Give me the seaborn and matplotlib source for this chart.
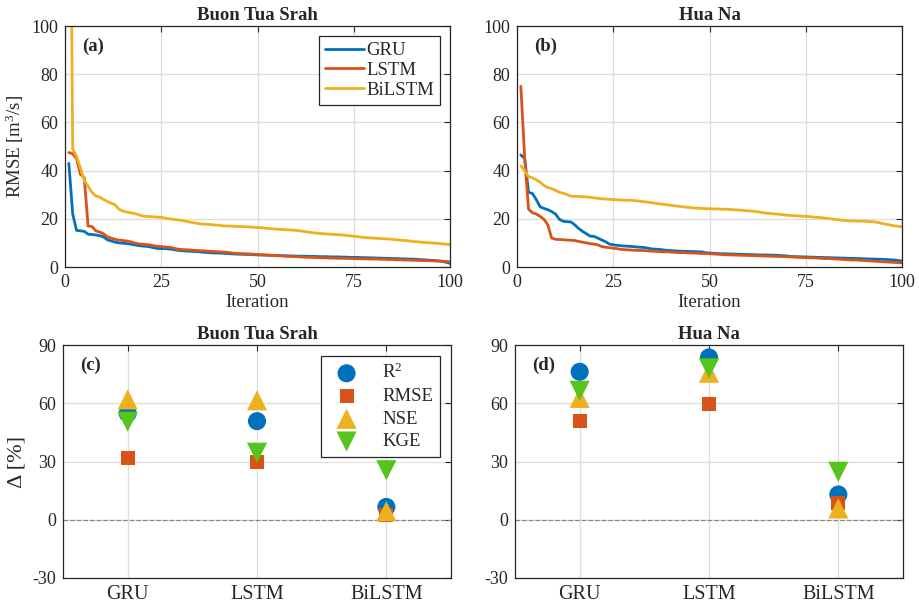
import numpy as np
import pandas as pd
import matplotlib
matplotlib.use("Agg")
import matplotlib.pyplot as plt
import seaborn as sns
from matplotlib.lines import Line2D

# ---------------- data ----------------
iterations = list(range(1, 101))
models = ["GRU", "LSTM", "BiLSTM"]
metrics = ["R$^2$", "RMSE", "NSE", "KGE"]

bts_gru = [43, 22, 15.2, 15, 14.8, 13.6, 13.5, 13.3, 13, 12.5,
           11.3, 10.8, 10.3, 10, 9.9, 9.7, 9.5, 9.2, 8.9, 8.7,
           8.6, 8.4, 8.0, 7.7, 7.6, 7.6, 7.5, 7.3, 7.0, 6.8,
           6.7, 6.6, 6.5, 6.4, 6.3, 6.1, 6.0, 5.9, 5.8, 5.8,
           5.7, 5.6, 5.5, 5.4, 5.3, 5.3, 5.2, 5.2, 5.1, 5.0,
           5.0, 4.9, 4.9, 4.8, 4.8, 4.7, 4.7, 4.6, 4.6, 4.5,
           4.5, 4.5, 4.4, 4.4, 4.4, 4.3, 4.3, 4.3, 4.2, 4.2,
           4.2, 4.1, 4.1, 4.0, 4.0, 4.0, 3.9, 3.9, 3.8, 3.8,
           3.7, 3.7, 3.6, 3.6, 3.5, 3.5, 3.4, 3.4, 3.3, 3.3,
           3.2, 3.1, 3.0, 2.9, 2.8, 2.7, 2.5, 2.3, 2.0, 1.5]
bts_lstm = [47.5, 47, 45, 38.5, 37, 17, 16.8, 15, 14.5, 13.8,
            12.5, 12, 11.5, 11.2, 11, 10.8, 10.5, 10, 9.6, 9.5,
            9.3, 9.2, 8.8, 8.6, 8.5, 8.3, 8.2, 7.9, 7.5, 7.3,
            7.2, 7.1, 7.0, 6.9, 6.8, 6.7, 6.6, 6.5, 6.4, 6.3,
            6.2, 6.1, 5.9, 5.7, 5.6, 5.5, 5.5, 5.4, 5.3, 5.2,
            5.1, 5.0, 4.9, 4.8, 4.7, 4.6, 4.5, 4.4, 4.4, 4.3,
            4.2, 4.1, 4.0, 4.0, 3.9, 3.9, 3.8, 3.8, 3.7, 3.7,
            3.6, 3.6, 3.6, 3.5, 3.5, 3.5, 3.4, 3.4, 3.3, 3.3,
            3.3, 3.2, 3.2, 3.1, 3.1, 3.0, 3.0, 2.9, 2.9, 2.8,
            2.8, 2.7, 2.7, 2.6, 2.6, 2.5, 2.5, 2.4, 2.3, 2.1]
bts_bilstm = [250, 49, 46, 41, 36, 33.5, 31, 29.5, 29, 28,
              27.2, 26.5, 25.8, 24, 23.2, 22.8, 22.5, 22.2, 21.8, 21.2,
              21, 20.9, 20.8, 20.7, 20.6, 20.3, 20, 19.8, 19.6, 19.4,
              19.1, 18.8, 18.5, 18.2, 17.9, 17.8, 17.7, 17.6, 17.4, 17.3,
              17.1, 17.0, 17.0, 16.9, 16.8, 16.8, 16.7, 16.6, 16.5, 16.4,
              16.3, 16.1, 16.0, 15.8, 15.7, 15.6, 15.5, 15.4, 15.3, 15.2,
              15.0, 14.8, 14.5, 14.3, 14.1, 14.0, 13.8, 13.7, 13.6, 13.5,
              13.4, 13.3, 13.1, 12.9, 12.8, 12.6, 12.4, 12.2, 12.1, 12.0,
              11.9, 11.8, 11.7, 11.6, 11.5, 11.3, 11.2, 11.0, 10.9, 10.7,
              10.5, 10.4, 10.2, 10.1, 10.0, 9.9, 9.8, 9.6, 9.5, 9.3]

hn_gru = [46.5, 45, 31, 30.5, 28, 25, 24.3, 23.8, 23, 22,
          19.8, 19, 18.8, 18.7, 17.5, 16, 14.8, 13.8, 12.8, 12.7,
          12, 11.2, 10.5, 9.5, 9.2, 9, 8.8, 8.7, 8.6, 8.5,
          8.3, 8.2, 8.1, 7.8, 7.5, 7.4, 7.3, 7.1, 6.9, 6.8,
          6.7, 6.6, 6.5, 6.5, 6.4, 6.4, 6.3, 6.3, 5.9, 5.8,
          5.7, 5.6, 5.5, 5.5, 5.4, 5.4, 5.3, 5.3, 5.2, 5.2,
          5.1, 5.1, 5.0, 5.0, 5.0, 4.9, 4.9, 4.8, 4.7, 4.6,
          4.4, 4.3, 4.3, 4.2, 4.2, 4.1, 4.1, 4.0, 4.0, 3.9,
          3.9, 3.8, 3.8, 3.7, 3.7, 3.6, 3.6, 3.5, 3.5, 3.4,
          3.4, 3.3, 3.3, 3.2, 3.2, 3.1, 3.0, 2.9, 2.7, 2.5]
hn_lstm = [75, 45, 24, 22.5, 22, 21, 19.8, 17.5, 12, 11.5,
           11.4, 11.3, 11.2, 11.1, 11, 10.6, 10.3, 10, 9.7, 9.5,
           9.2, 8.5, 8.2, 8, 7.8, 7.6, 7.3, 7.2, 7.1, 7.0,
           6.9, 6.9, 6.8, 6.7, 6.6, 6.5, 6.4, 6.3, 6.3, 6.2,
           6.1, 6.0, 6.0, 5.9, 5.8, 5.8, 5.7, 5.6, 5.6, 5.5,
           5.4, 5.3, 5.2, 5.1, 5.0, 5.0, 4.9, 4.9, 4.8, 4.8,
           4.7, 4.7, 4.6, 4.6, 4.5, 4.5, 4.4, 4.4, 4.3, 4.3,
           4.2, 4.1, 4.0, 4.0, 3.9, 3.8, 3.8, 3.7, 3.6, 3.5,
           3.5, 3.4, 3.3, 3.2, 3.1, 3.0, 2.9, 2.9, 2.8, 2.7,
           2.6, 2.5, 2.4, 2.3, 2.2, 2.1, 2.0, 1.9, 1.8, 1.7]
hn_bilstm = [42, 40, 37.5, 37, 36.2, 35.2, 33.8, 33, 32.5, 31.8,
             31, 30.6, 30, 29.4, 29.3, 29.3, 29.2, 29.1, 28.9, 28.7,
             28.5, 28.3, 28.2, 28.1, 28.0, 27.9, 27.8, 27.7, 27.7, 27.6,
             27.5, 27.3, 27.1, 26.9, 26.7, 26.4, 26.2, 26.0, 25.8, 25.6,
             25.4, 25.2, 25.0, 24.8, 24.7, 24.5, 24.4, 24.3, 24.2, 24.2,
             24.1, 24.1, 24.0, 24.0, 23.9, 23.8, 23.7, 23.6, 23.4, 23.3,
             23.2, 23.0, 22.8, 22.5, 22.3, 22.2, 22.0, 21.9, 21.7, 21.5,
             21.4, 21.3, 21.2, 21.1, 21.0, 20.9, 20.7, 20.6, 20.5, 20.3,
             20.1, 19.9, 19.7, 19.5, 19.3, 19.2, 19.1, 19.1, 19.0, 19.0,
             18.9, 18.8, 18.7, 18.4, 18.0, 17.7, 17.4, 17.1, 16.9, 16.7]

# improvement (%) per model: [GRU, LSTM, BiLSTM]
bts_r2 = [54.8, 50.8, 6.6]
bts_rmse = [32.0, 29.8, 2.3]
bts_nse = [62.0, 61.5, 4.4]
bts_kge = [50.5, 34.5, 25.5]
hn_r2 = [76.2, 83.6, 13.0]
hn_rmse = [51.0, 59.4, 8.7]
hn_nse = [62.7, 75.7, 5.8]
hn_kge = [66.4, 78.0, 24.7]

# ---------------- style ----------------
sns.set_style("white")
plt.rcParams["font.family"] = ["Liberation Serif", "DejaVu Serif"]
plt.rcParams["mathtext.fontset"] = "custom"
plt.rcParams["mathtext.rm"] = "Liberation Serif"
plt.rcParams["mathtext.it"] = "Liberation Serif:italic"
plt.rcParams["mathtext.bf"] = "Liberation Serif:bold"
plt.rcParams["axes.unicode_minus"] = False
plt.rcParams["axes.edgecolor"] = "#262626"
plt.rcParams["axes.linewidth"] = 0.9

line_colors = {"GRU": "#0072BD", "LSTM": "#D95319", "BiLSTM": "#EDB120"}
metric_colors = {"R$^2$": "#0072BD", "RMSE": "#D95319", "NSE": "#EDB120", "KGE": "#55C41C"}
metric_markers = {"R$^2$": "o", "RMSE": "s", "NSE": "^", "KGE": "v"}
metric_sizes = {"R$^2$": 170, "RMSE": 100, "NSE": 210, "KGE": 210}

W, H = 919, 608
fig = plt.figure(figsize=(W / 100, H / 100), dpi=100)

def px_axes(l, t, r, b):
    return fig.add_axes([l / W, 1 - b / H, (r - l) / W, (b - t) / H])

ax_a = px_axes(65, 26, 450, 267)
ax_b = px_axes(517, 26, 902, 267)
ax_c = px_axes(63, 345, 451, 578)
ax_d = px_axes(515, 345, 903, 578)

GRID = dict(color="#DDDDDD", linewidth=0.9)
TICK = 13

def style_axes(ax):
    ax.grid(True, **GRID)
    ax.set_axisbelow(True)
    ax.tick_params(direction="in", length=4, width=0.8, top=True, right=True,
                   labelsize=TICK, color="#262626", pad=5)
    for s in ax.spines.values():
        s.set_visible(True)
        s.set_color("#262626")

def line_panel(ax, gru, lstm, bilstm, title, tag, ylabel=None, legend=False):
    df = pd.DataFrame({
        "Iteration": iterations * 3,
        "RMSE": gru + lstm + bilstm,
        "Model": ["GRU"] * 100 + ["LSTM"] * 100 + ["BiLSTM"] * 100,
    })
    sns.lineplot(data=df, x="Iteration", y="RMSE", hue="Model", hue_order=models,
                 palette=line_colors, estimator=None, linewidth=2.0, ax=ax, legend=False)
    ax.set_xlim(0, 100)
    ax.set_ylim(0, 100)
    ax.set_xticks([0, 25, 50, 75, 100])
    ax.set_yticks([0, 20, 40, 60, 80, 100])
    style_axes(ax)
    ax.set_xlabel("Iteration", fontsize=13.5, labelpad=2)
    ax.set_ylabel(ylabel if ylabel else "", fontsize=13.5)
    ax.set_title(title, fontsize=13.5, fontweight="bold", pad=4)
    ax.text(0.045, 0.95, tag, transform=ax.transAxes, fontsize=13.5,
            fontweight="bold", ha="left", va="top")
    if legend:
        handles = [Line2D([0], [0], color=line_colors[m], lw=2.0) for m in models]
        leg = ax.legend(handles, models, loc="upper right", fontsize=13.5,
                        frameon=True, fancybox=False, framealpha=1,
                        edgecolor="#262626", handlelength=2.1, handletextpad=0.1,
                        labelspacing=0.15, borderpad=0.3, borderaxespad=0.55)
        leg.get_frame().set_linewidth(0.9)

def marker_panel(ax, r2, rmse, nse, kge, title, tag, ylabel=None, legend=False):
    vals = {"R$^2$": r2, "RMSE": rmse, "NSE": nse, "KGE": kge}
    ax.axhline(0, color="#888888", linestyle="--", linewidth=0.9, zorder=1)
    for m in metrics:
        dfm = pd.DataFrame({"Model": models, "Delta": vals[m]})
        sns.scatterplot(data=dfm, x="Model", y="Delta", marker=metric_markers[m],
                        s=metric_sizes[m], color=metric_colors[m], edgecolor="none",
                        linewidth=0, ax=ax, zorder=3, label=m)
    ax.set_xlim(-0.5, 2.5)
    ax.set_ylim(-30, 90)
    ax.set_yticks([-30, 0, 30, 60, 90])
    style_axes(ax)
    ax.tick_params(axis="x", labelsize=14.5)
    ax.set_xlabel("")
    ax.set_ylabel(ylabel if ylabel else "", fontsize=16)
    ax.set_title(title, fontsize=13.5, fontweight="bold", pad=4)
    ax.text(0.045, 0.95, tag, transform=ax.transAxes, fontsize=13.5,
            fontweight="bold", ha="left", va="top")
    if legend:
        leg = ax.legend(loc="upper right", fontsize=13.5, frameon=True, fancybox=False,
                        framealpha=1, edgecolor="#262626", handlelength=2.0,
                        handletextpad=0.9, labelspacing=0.3, borderpad=0.35,
                        borderaxespad=0.6)
        leg.get_frame().set_linewidth(0.9)
    else:
        lg = ax.get_legend()
        if lg is not None:
            lg.remove()

line_panel(ax_a, bts_gru, bts_lstm, bts_bilstm, "Buon Tua Srah", "(a)",
           ylabel="RMSE [m$^3$/s]", legend=True)
line_panel(ax_b, hn_gru, hn_lstm, hn_bilstm, "Hua Na", "(b)")
marker_panel(ax_c, bts_r2, bts_rmse, bts_nse, bts_kge, "Buon Tua Srah", "(c)",
             ylabel="Δ [%]", legend=True)
marker_panel(ax_d, hn_r2, hn_rmse, hn_nse, hn_kge, "Hua Na", "(d)")

fig.savefig("out.png", dpi=100)
